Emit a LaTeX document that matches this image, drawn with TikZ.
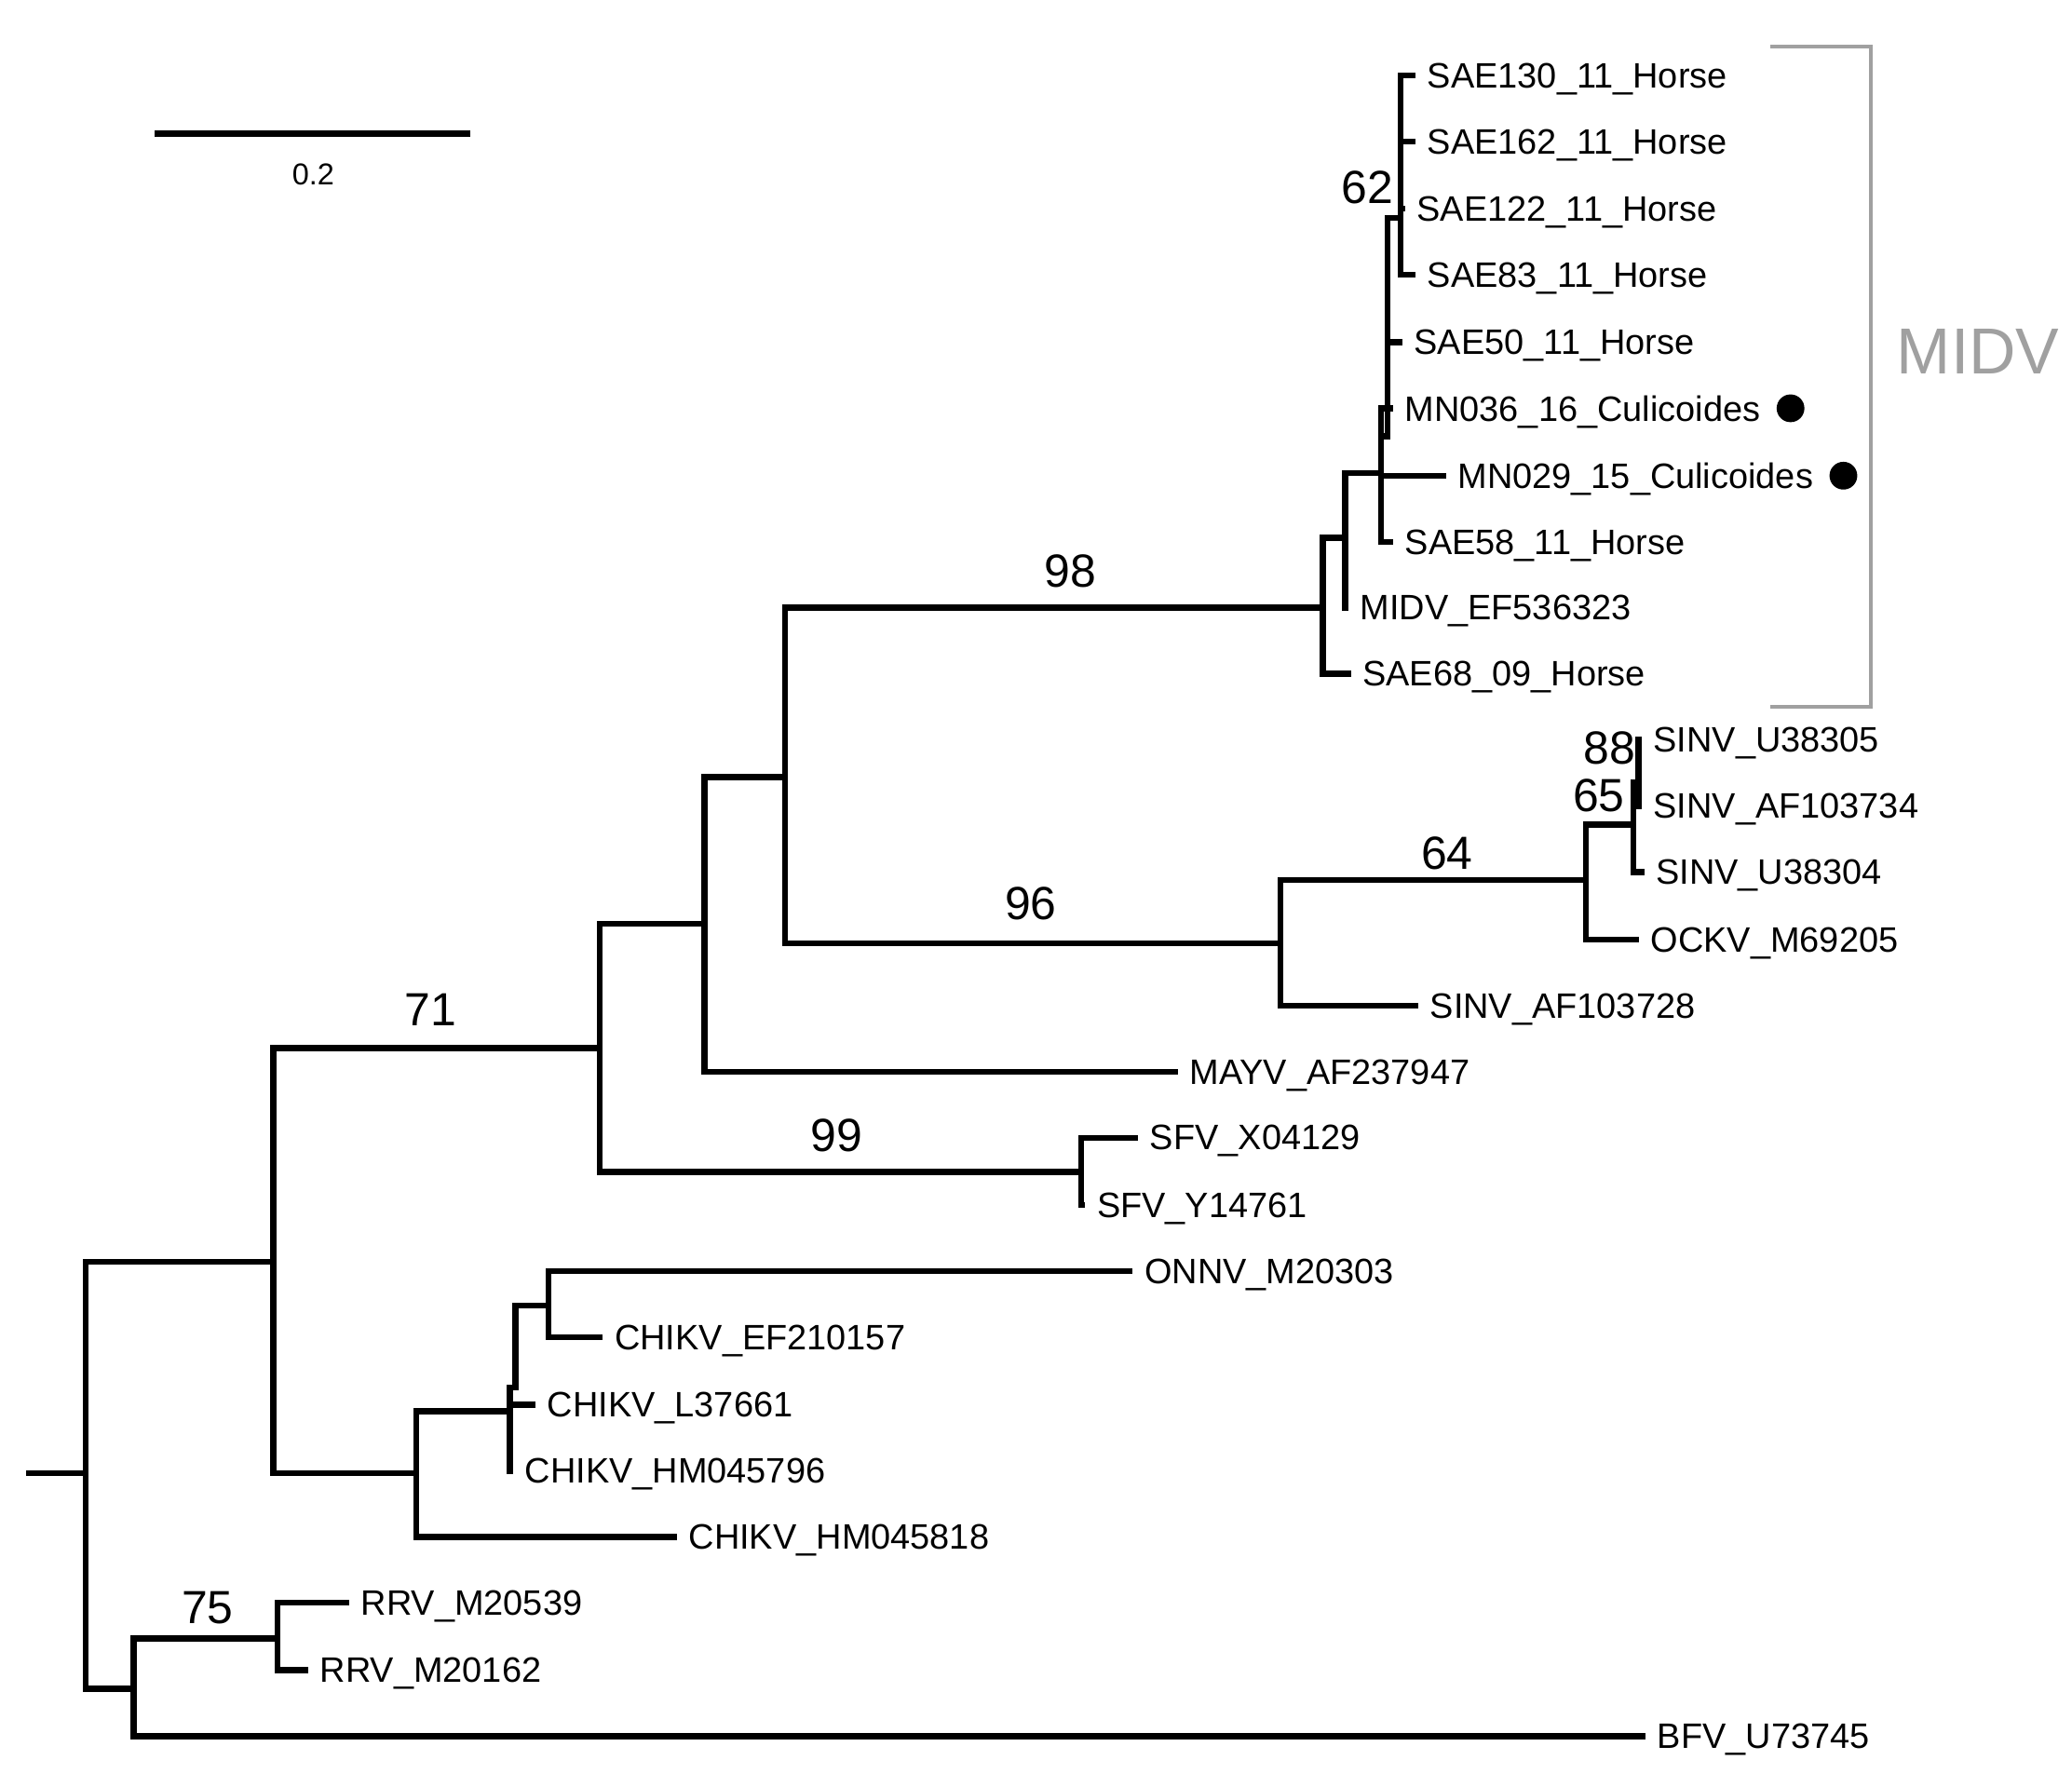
\documentclass[tikz,border=0pt]{standalone}
\usepackage{fontspec}
\setmainfont{Liberation Sans}
\usepackage{xcolor}
\definecolor{cladegray}{RGB}{160,160,160}

\begin{document}
\begin{tikzpicture}[
        x=0.01cm, y=-0.01cm,
        branch/.style={
            line width=1.3pt,
            line cap=rect,
            color=black
        },
        leaf/.style={
            anchor=west,
            inner xsep=3pt,
            inner ysep=0pt,
            text depth=0pt,
            font=\fontsize{7.6}{9}\selectfont
        },
        boot/.style={
            inner sep=0pt,
            font=\fontsize{10}{12}\selectfont
        },
        dot/.style={
            circle,
            fill=black,
            inner sep=0pt,
            minimum size=0.21cm
        },
        bracket/.style={
            line width=0.85pt,
            color=cladegray
        }
    ]
    \useasboundingbox (0,0) rectangle (1568,1352);

    % Scale bar (top left)
    \coordinate (sbl) at (117,101);
    \coordinate (sbr) at (356,101);
    \draw[branch, line cap=butt] (sbl) -- (sbr);
    \node[inner sep=0pt, font=\fontsize{6.5}{8}\selectfont] (sblab) at (237,132) {0.2};

    % Internal nodes
    \coordinate (rootstub) at (22,1115);
    \coordinate (root) at (65,1115);
    \coordinate (nA) at (207,955);
    \coordinate (nB) at (454,793);
    \coordinate (nC) at (533,699);
    \coordinate (nD) at (594,588);
    \coordinate (nMIDV) at (1001,460);
    \coordinate (nE) at (1018,407);
    \coordinate (nK) at (1045,358);
    \coordinate (nL) at (1050,330);
    \coordinate (nM) at (1060,165);
    \coordinate (nN) at (969,714);
    \coordinate (nO) at (1200,666);
    \coordinate (nP) at (1236,624);
    \coordinate (nQ) at (1240,592);
    \coordinate (nSFV) at (818,887);
    \coordinate (nR) at (315,1115);
    \coordinate (nS) at (386,1068);
    \coordinate (nU) at (390,1050);
    \coordinate (nT) at (415,988);
    \coordinate (nV) at (101,1278);
    \coordinate (nW) at (210,1240);

    % MIDV clade leaves
    \node[leaf] (sae130) at (1069,57) {SAE130\_11\_Horse};
    \node[leaf] (sae162) at (1069,107) {SAE162\_11\_Horse};
    \node[leaf] (sae122) at (1061,158) {SAE122\_11\_Horse};
    \node[leaf] (sae83) at (1069,208) {SAE83\_11\_Horse};
    \node[leaf] (sae50) at (1059,259) {SAE50\_11\_Horse};
    \node[leaf] (mn036) at (1052,309) {MN036\_16\_Culicoides};
    \node[leaf] (mn029) at (1092,360) {MN029\_15\_Culicoides};
    \node[leaf] (sae58) at (1052,410) {SAE58\_11\_Horse};
    \node[leaf] (midvef) at (1018,460) {MIDV\_EF536323};
    \node[leaf] (sae68) at (1020,510) {SAE68\_09\_Horse};

    % SINV group leaves
    \node[leaf] (sinv305) at (1240,560) {SINV\_U38305};
    \node[leaf] (sinv734) at (1240,610) {SINV\_AF103734};
    \node[leaf] (sinv304) at (1242,660) {SINV\_U38304};
    \node[leaf] (ockv) at (1238,711) {OCKV\_M69205};
    \node[leaf] (sinv728) at (1071,761) {SINV\_AF103728};

    % Other leaves
    \node[leaf] (mayv) at (889,811) {MAYV\_AF237947};
    \node[leaf] (sfvx) at (859,861) {SFV\_X04129};
    \node[leaf] (sfvy) at (819,912) {SFV\_Y14761};
    \node[leaf] (onnv) at (855,962) {ONNV\_M20303};
    \node[leaf] (chikef) at (454,1012) {CHIKV\_EF210157};
    \node[leaf] (chikl) at (403,1063) {CHIKV\_L37661};
    \node[leaf] (chikhm796) at (386,1113) {CHIKV\_HM045796};
    \node[leaf] (chikhm818) at (510,1163) {CHIKV\_HM045818};
    \node[leaf] (rrv539) at (262,1213) {RRV\_M20539};
    \node[leaf] (rrv162) at (231,1264) {RRV\_M20162};
    \node[leaf] (bfv) at (1243,1314) {BFV\_U73745};

    % Culicoides markers
    \node[dot] (dot036) at (1355,309) {};
    \node[dot] (dot029) at (1395,360) {};

    % Branches
    \draw[branch] (rootstub) -- (root);
    \draw[branch] (root) |- (nA);
    \draw[branch] (root) |- (nV);
    \draw[branch] (nA) |- (nB);
    \draw[branch] (nA) |- (nR);
    \draw[branch] (nB) |- (nC);
    \draw[branch] (nB) |- (nSFV);
    \draw[branch] (nC) |- (nD);
    \draw[branch] (nC) |- (mayv.west);
    \draw[branch] (nD) |- (nMIDV);
    \draw[branch] (nD) |- (nN);
    \draw[branch] (nMIDV) |- (nE);
    \draw[branch] (nMIDV) |- (sae68.west);
    \draw[branch] (nE) |- (nK);
    \draw[branch] (nE) |- (midvef.west);
    \draw[branch] (nK) |- (mn036.west);
    \draw[branch] (nK) |- (mn029.west);
    \draw[branch] (nK) |- (sae58.west);
    \draw[branch] (nK) |- (nL);
    \draw[branch] (nL) |- (nM);
    \draw[branch] (nL) |- (sae50.west);
    \draw[branch] (nM) |- (sae130.west);
    \draw[branch] (nM) |- (sae162.west);
    \draw[branch] (nM) |- (sae122.west);
    \draw[branch] (nM) |- (sae83.west);
    \draw[branch] (nN) |- (nO);
    \draw[branch] (nN) |- (sinv728.west);
    \draw[branch] (nO) |- (nP);
    \draw[branch] (nO) |- (ockv.west);
    \draw[branch] (nP) |- (nQ);
    \draw[branch] (nP) |- (sinv304.west);
    \draw[branch] (nQ) |- (sinv305.west);
    \draw[branch] (nQ) |- (sinv734.west);
    \draw[branch] (nSFV) |- (sfvx.west);
    \draw[branch] (nSFV) |- (sfvy.west);
    \draw[branch] (nR) |- (nS);
    \draw[branch] (nR) |- (chikhm818.west);
    \draw[branch] (nS) |- (nU);
    \draw[branch] (nS) |- (chikl.west);
    \draw[branch] (nS) |- (chikhm796.west);
    \draw[branch] (nU) |- (nT);
    \draw[branch] (nT) |- (onnv.west);
    \draw[branch] (nT) |- (chikef.west);
    \draw[branch] (nV) |- (nW);
    \draw[branch] (nV) |- (bfv.west);
    \draw[branch] (nW) |- (rrv539.west);
    \draw[branch] (nW) |- (rrv162.west);

    % Bootstrap values
    \node[boot] (b62) at (1035,142) {62};
    \node[boot] (b98) at (810,432) {98};
    \node[boot] (b96) at (780,684) {96};
    \node[boot] (b64) at (1095,646) {64};
    \node[boot] (b88) at (1218,566) {88};
    \node[boot] (b65) at (1210,602) {65};
    \node[boot] (b71) at (326,764) {71};
    \node[boot] (b99) at (633,859) {99};
    \node[boot] (b75) at (157,1217) {75};

    % MIDV clade bracket
    \coordinate (brtop) at (1340,35);
    \coordinate (brbot) at (1340,535);
    \draw[bracket] (brtop) -- ++(76,0) |- (brbot);
    \node[inner sep=0pt, text=cladegray, font=\fontsize{14}{16}\selectfont] (midvlab) at (1497,266) {MIDV};

\end{tikzpicture}
\end{document}
